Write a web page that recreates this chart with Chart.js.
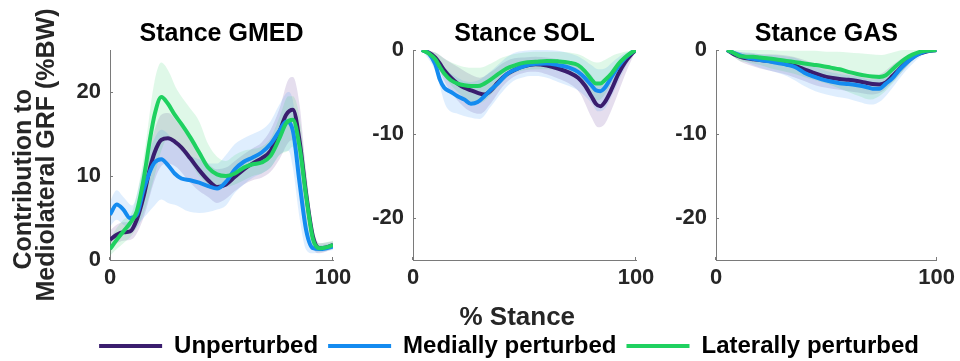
<!DOCTYPE html>
<html><head><meta charset="utf-8">
<script src="https://cdn.jsdelivr.net/npm/chart.js@4.4.1/dist/chart.umd.min.js"></script>
<style>
html,body{margin:0;padding:0;background:#fff;overflow:hidden;width:960px;height:361px;}
#wrap{position:relative;width:960px;height:361px;overflow:hidden;}
canvas{position:absolute;left:0;top:0;}
</style></head><body>
<div id="wrap">
<canvas id="c1" width="960" height="361"></canvas>
<canvas id="c2" width="960" height="361"></canvas>
<canvas id="c3" width="960" height="361"></canvas>
<canvas id="c4" width="960" height="130" style="top:314px"></canvas>
</div>
<script>
// ---------- DATA ----------
const seriesLabels = ['Unperturbed', 'Medially perturbed', 'Laterally perturbed'];
const panelTitles = ['Stance GMED', 'Stance SOL', 'Stance GAS'];
const xTicks = [0, 100];
const gmedYTicks = [0, 10, 20];
const negYTicks = [-20, -10, 0];

// GMED
const gmedX = [0,3,6,9,12,15,18,20,23,26,29,32,36,40,44,48,52,56,60,64,68,72,76,79,82,85,88,91,94,97,100];
const gmedUnp = [2.4,3.0,3.3,3.4,4.8,7.5,11.0,12.8,14.3,14.5,14.1,13.4,12.1,10.7,9.5,8.7,9.0,9.9,10.8,11.5,12.1,13.0,15.3,17.3,17.9,14.2,7.8,2.8,1.4,1.5,1.8];
const gmedMed = [5.4,6.6,6.0,5.0,5.4,8.3,10.6,11.6,12.0,11.3,10.3,9.7,9.5,9.2,8.8,8.5,9.3,10.8,11.7,12.2,12.8,13.8,15.4,16.5,15.4,9.2,3.5,1.4,1.3,1.4,1.6];
const gmedLat = [1.3,2.4,3.4,4.4,5.8,9.5,14.5,17.3,19.4,18.6,17.3,16.2,14.6,12.8,11.0,10.2,10.0,10.3,11.0,11.4,11.6,12.4,14.5,16.3,16.7,13.5,7.5,2.5,1.4,1.5,1.8];
const gmedBandX = [0,3,6,10,15,20,23,26,30,35,40,44,48,52,56,60,64,68,72,76,80,82,85,88,91,94,100];
const gmedUnpHi = [3.5,4.2,4.5,4.5,10,15.5,17.3,17.5,16.5,14.8,13,11.5,10.8,11,11.8,12.6,13.3,14,15.5,18,21.5,21.8,18.5,10.5,4,2,2.2];
const gmedUnpLo = [1.5,2.0,2.3,2.5,5,9.5,11.2,11.5,11,9.5,8.2,7.5,6.8,7.3,8.2,9,9.5,9.8,10.5,12,14,14.3,10,5,1.5,0.8,1.3];
const gmedMedHi = [7,8.3,7.5,6.5,11,14.5,15.5,15,13.5,12.5,12,11.5,11.5,12.5,13.8,14.5,15,15.5,16.5,18.5,20,19,12.5,5,2,1.8,2];
const gmedMedLo = [4,4.8,4.2,3.5,5,6.5,7.2,6.8,6.5,5.8,5.6,5.7,6,6.5,8,9,9.8,10.3,11,12.5,13,11,5,1.2,0.8,0.9,1.2];
const gmedLatHi = [2.5,3.8,4.8,5.8,12,21.3,23.5,22.6,20.3,18.4,16.5,13.8,12.3,11.8,12.5,13,13.2,13.5,14.5,17,19.5,19.5,17,10,3,2,2.3];
const gmedLatLo = [0.5,1.3,2.0,3.0,5.5,10,13,14.5,13.5,12,10,9,8.7,8.7,9,9.5,10,10.3,11,12.5,13,13.5,9,4,1.5,1,1.3];

// SOL
const solX = [4,7,10,12,14,17,20,23,26,29,32,35,38,42,46,50,55,60,65,70,74,77,80,82,84,86,89,92,95,98,100];
const solUnp = [0,-0.3,-0.9,-1.6,-2.4,-3.3,-4.0,-4.5,-4.8,-5.1,-5.3,-4.8,-3.9,-2.9,-2.3,-1.9,-1.7,-1.85,-2.2,-2.7,-3.3,-4.2,-5.5,-6.4,-6.7,-6.2,-4.7,-2.9,-1.5,-0.5,0];
const solMed = [0,-0.4,-1.7,-3.5,-4.5,-5.0,-5.5,-5.9,-6.4,-6.2,-5.5,-4.7,-4.0,-2.9,-2.3,-1.9,-1.65,-1.6,-1.8,-2.1,-2.6,-3.3,-4.2,-4.8,-4.9,-4.5,-3.2,-2.0,-1.0,-0.3,0];
const solLat = [0,-0.4,-1.1,-2.0,-2.8,-3.6,-4.0,-4.2,-4.3,-4.3,-4.0,-3.5,-2.9,-2.2,-1.8,-1.5,-1.4,-1.3,-1.35,-1.5,-1.8,-2.5,-3.5,-4.0,-4.0,-3.6,-2.8,-1.7,-0.9,-0.3,0];
const solBandX = [4,10,15,20,25,30,35,40,45,50,55,60,65,70,75,80,83,86,90,95,100];
const solUnpHi = [0,-0.3,-1.2,-2.0,-2.8,-3.3,-2.6,-1.6,-1.0,-0.9,-0.8,-0.9,-1.1,-1.4,-2.0,-3.0,-4.2,-4.0,-2.6,-1.0,0];
const solUnpLo = [0,-1.5,-4.2,-6.0,-7.2,-7.6,-6.3,-4.4,-3.2,-2.7,-2.6,-2.9,-3.4,-4.0,-5.2,-8.0,-9.2,-8.8,-6.5,-3.0,0];
const solMedHi = [0,-0.5,-2.3,-3.3,-3.8,-3.5,-2.5,-1.3,-0.4,-0.1,0,0,-0.1,-0.4,-0.9,-1.8,-2.3,-2.2,-1.3,-0.4,0];
const solMedLo = [0,-2.5,-6.8,-7.6,-8.0,-8.2,-6.7,-5.0,-3.7,-3.2,-3.1,-3.3,-3.8,-4.3,-5.0,-6.3,-7.3,-7.0,-5.0,-2.2,0];
const solLatHi = [0,-0.3,-1.2,-1.8,-2.1,-2.1,-1.6,-0.9,-0.5,-0.3,-0.2,-0.2,-0.2,-0.3,-0.6,-1.3,-1.5,-1.2,-0.6,-0.2,0];
const solLatLo = [0,-1.5,-3.5,-5.0,-6.0,-6.3,-5.3,-3.8,-2.8,-2.4,-2.3,-2.3,-2.4,-2.8,-3.5,-5.5,-6.0,-5.3,-3.5,-1.5,0];

// GAS
const gasX = [5,8,11,14,17,20,24,28,32,36,40,44,48,52,56,60,64,68,71,74,77,80,83,86,89,92,95,100];
const gasUnp = [0,-0.5,-0.8,-1.0,-1.1,-1.2,-1.3,-1.45,-1.65,-1.9,-2.3,-2.7,-3.05,-3.3,-3.45,-3.55,-3.7,-3.9,-4.05,-4.1,-3.85,-3.1,-2.3,-1.55,-0.9,-0.45,-0.2,0];
const gasMed = [0,-0.35,-0.65,-0.9,-1.05,-1.2,-1.35,-1.55,-1.75,-2.05,-2.7,-3.15,-3.5,-3.75,-3.95,-4.05,-4.2,-4.4,-4.6,-4.6,-4.0,-3.35,-2.4,-1.6,-0.95,-0.45,-0.15,0];
const gasLat = [0,-0.35,-0.75,-0.8,-0.8,-0.9,-1.0,-1.15,-1.3,-1.45,-1.6,-1.75,-1.9,-2.1,-2.3,-2.6,-2.85,-3.05,-3.15,-3.2,-3.0,-2.3,-1.6,-1.0,-0.55,-0.25,-0.1,0];
const gasBandX = [5,10,15,20,25,30,35,40,45,50,55,60,65,70,75,80,85,90,95,100];
const gasUnpHi = [0,-0.2,-0.4,-0.5,-0.5,-0.6,-0.8,-1.2,-1.7,-2.1,-2.4,-2.6,-2.8,-3.0,-2.8,-1.8,-0.9,-0.4,-0.1,0];
const gasUnpLo = [0,-1.2,-1.8,-2.2,-2.5,-2.8,-3.2,-3.7,-4.2,-4.5,-4.7,-4.9,-5.1,-5.3,-5.0,-3.8,-2.4,-1.1,-0.4,0];
const gasMedHi = [0,-0.2,-0.3,-0.5,-0.6,-0.7,-0.9,-1.4,-2.0,-2.5,-2.8,-3.0,-3.2,-3.5,-3.3,-2.4,-1.2,-0.5,-0.1,0];
const gasMedLo = [0,-0.9,-1.6,-2.1,-2.5,-2.9,-3.5,-4.3,-4.9,-5.3,-5.6,-5.8,-6.2,-6.5,-6.0,-4.5,-2.8,-1.4,-0.4,0];
const gasLatHi = [0,0,0,0,0,-0.1,-0.1,-0.1,-0.1,-0.2,-0.2,-0.3,-0.4,-0.5,-0.6,-0.3,0,0,0,0];
const gasLatLo = [0,-1.2,-1.5,-1.8,-2.2,-2.5,-2.8,-3.2,-3.6,-4.0,-4.5,-5.0,-5.5,-5.9,-5.3,-4.0,-2.4,-1.1,-0.4,0];

// ---------- STYLE ----------
const FONT = "'Liberation Sans', Arial, Helvetica, sans-serif";
const colUnp = '#3a1d6e', colMed = '#148bf0', colLat = '#1fd160';
const fillUnp = 'rgba(110,70,160,0.18)', fillMed = 'rgba(40,140,245,0.15)', fillLat = 'rgba(40,210,100,0.15)';
const AXIS = '#7a7a7a', TXT = '#262626';
const XH = 73; // x-axis box height
Chart.defaults.font.family = FONT;

function pts(xs, ys) { return xs.map((x, i) => ({x: x, y: ys[i]})); }
function band(xs, hi, lo, fillColor, order) {
  return [
    {data: pts(xs, hi), borderColor: 'rgba(0,0,0,0)', borderWidth: 0, backgroundColor: fillColor, fill: '+1', order: order, pointRadius: 0},
    {data: pts(xs, lo), borderColor: 'rgba(0,0,0,0)', borderWidth: 0, backgroundColor: 'rgba(0,0,0,0)', fill: false, order: order, pointRadius: 0}
  ];
}
function line(xs, ys, color, order) {
  return {data: pts(xs, ys), borderColor: color, backgroundColor: color, borderWidth: 4, fill: false, order: order, pointRadius: 0, borderJoinStyle: 'round', borderCapStyle: 'butt'};
}

const innerTicks = {
  id: 'innerTicks',
  afterDraw(chart) {
    const {ctx, chartArea, scales} = chart;
    ctx.save();
    ctx.strokeStyle = AXIS; ctx.lineWidth = 1;
    scales.y.ticks.forEach(t => {
      const y = Math.round(scales.y.getPixelForValue(t.value)) + 0.5;
      ctx.beginPath(); ctx.moveTo(chartArea.left, y); ctx.lineTo(chartArea.left + 3, y); ctx.stroke();
    });
    scales.x.ticks.forEach(t => {
      const x = Math.round(scales.x.getPixelForValue(t.value)) - 0.5;
      ctx.beginPath(); ctx.moveTo(x, chartArea.bottom); ctx.lineTo(x, chartArea.bottom - 3); ctx.stroke();
    });
    ctx.restore();
  }
};

function panel(id, cfg) {
  const tickFont = {family: FONT, size: 22, weight: 'bold'};
  new Chart(document.getElementById(id), {
    type: 'line',
    data: {datasets: cfg.datasets},
    plugins: [innerTicks],
    options: {
      responsive: false, animation: false, events: [],
      layout: {padding: {left: 0, top: 0, right: 960 - cfg.R, bottom: 361 - cfg.B - XH}},
      elements: {line: {cubicInterpolationMode: 'monotone'}, point: {radius: 0}},
      plugins: {
        legend: {display: false}, tooltip: {enabled: false},
        title: {display: true, text: cfg.title, fullSize: false, align: 'center', color: '#000',
                font: {family: FONT, size: 25, weight: 'bold', lineHeight: 1.2}, padding: {top: 19, bottom: 1}}
      },
      scales: {
        x: {
          type: 'linear', min: 0, max: 100,
          afterFit(s) { s.height = XH; },
          afterBuildTicks(s) { s.ticks = xTicks.map(v => ({value: v})); },
          ticks: {font: tickFont, color: TXT, padding: 5, maxRotation: 0, autoSkip: false},
          grid: {drawOnChartArea: false, drawTicks: false},
          border: {display: true, color: AXIS, width: 1},
          title: cfg.xTitle ? {display: true, text: cfg.xTitle, color: TXT, font: {family: FONT, size: 26, weight: 'bold', lineHeight: 1.2}, padding: {top: 0, bottom: 0}} : {display: false}
        },
        y: {
          type: 'linear', min: cfg.ymin, max: cfg.ymax,
          afterFit(s) { s.width = cfg.L; },
          afterBuildTicks(s) { s.ticks = cfg.yTicks.map(v => ({value: v})); },
          ticks: {font: tickFont, color: TXT, padding: 9},
          grid: {drawOnChartArea: false, drawTicks: false},
          border: {display: true, color: AXIS, width: 1},
          title: cfg.yTitle ? {display: true, text: cfg.yTitle, color: TXT, font: {family: FONT, size: 25, weight: 'bold', lineHeight: 0.92}, padding: {top: 12.8, bottom: 0}} : {display: false}
        }
      }
    }
  });
}

const nb = '\u00a0';
panel('c1', {
  L: 110, R: 333, B: 260, ymin: 0, ymax: 25, yTicks: gmedYTicks, title: panelTitles[0],
  yTitle: ['Contribution to' + nb.repeat(7), 'Mediolateral GRF (%BW)'],
  datasets: [
    ...band(gmedBandX, gmedUnpHi, gmedUnpLo, fillUnp, 12),
    ...band(gmedBandX, gmedMedHi, gmedMedLo, fillMed, 11),
    ...band(gmedBandX, gmedLatHi, gmedLatLo, fillLat, 10),
    line(gmedX, gmedUnp, colUnp, 2), line(gmedX, gmedMed, colMed, 1), line(gmedX, gmedLat, colLat, 0)
  ]
});
panel('c2', {
  L: 413, R: 636, B: 260, ymin: -25, ymax: 0, yTicks: negYTicks, title: panelTitles[1],
  xTitle: '% Stance' + nb + nb,
  datasets: [
    ...band(solBandX, solUnpHi, solUnpLo, fillUnp, 12),
    ...band(solBandX, solMedHi, solMedLo, fillMed, 11),
    ...band(solBandX, solLatHi, solLatLo, fillLat, 10),
    line(solX, solUnp, colUnp, 2), line(solX, solMed, colMed, 1), line(solX, solLat, colLat, 0)
  ]
});
panel('c3', {
  L: 716, R: 938, B: 260, ymin: -25, ymax: 0, yTicks: negYTicks, title: panelTitles[2],
  datasets: [
    ...band(gasBandX, gasUnpHi, gasUnpLo, fillUnp, 12),
    ...band(gasBandX, gasMedHi, gasMedLo, fillMed, 11),
    ...band(gasBandX, gasLatHi, gasLatLo, fillLat, 10),
    line(gasX, gasUnp, colUnp, 2), line(gasX, gasMed, colMed, 1), line(gasX, gasLat, colLat, 0)
  ]
});

// legend
new Chart(document.getElementById('c4'), {
  type: 'line',
  data: {datasets: [
    {label: seriesLabels[0], data: [], borderColor: colUnp, backgroundColor: colUnp, borderWidth: 0},
    {label: seriesLabels[1], data: [], borderColor: colMed, backgroundColor: colMed, borderWidth: 0},
    {label: seriesLabels[2], data: [], borderColor: colLat, backgroundColor: colLat, borderWidth: 0}
  ]},
  options: {
    responsive: false, animation: false, events: [],
    layout: {padding: {left: 58, right: 0, top: 10, bottom: 0}},
    scales: {x: {display: false}, y: {display: false}},
    plugins: {
      tooltip: {enabled: false},
      legend: {display: true, position: 'top', align: 'center',
        labels: {font: {family: FONT, size: 24, weight: 'bold'}, color: '#000', boxWidth: 63, boxHeight: 4, padding: 10}}
    }
  }
});
</script>
</body></html>
